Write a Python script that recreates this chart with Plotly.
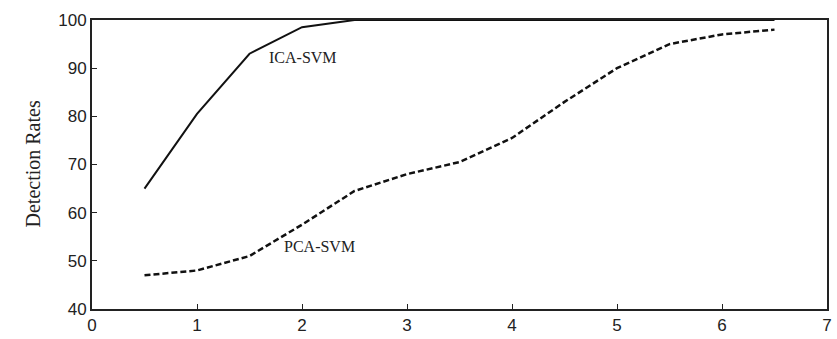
import plotly.graph_objects as go

x_ica = [0.5, 1, 1.5, 2, 2.5, 3, 3.5, 4, 4.5, 5, 5.5, 6, 6.5]
y_ica = [65, 80.5, 93, 98.5, 100, 100, 100, 100, 100, 100, 100, 100, 100]
x_pca = [0.5, 1, 1.5, 2, 2.5, 3, 3.5, 4, 4.5, 5, 5.5, 6, 6.5]
y_pca = [47, 48, 51, 57.5, 64.5, 68, 70.5, 75.5, 83, 90, 95, 97, 98]
x_ticks = [0, 1, 2, 3, 4, 5, 6, 7]
y_ticks = [40, 50, 60, 70, 80, 90, 100]

fig = go.Figure()
fig.add_trace(go.Scatter(x=x_ica, y=y_ica, mode="lines", name="ICA-SVM",
                         line=dict(color="#111111", width=2), cliponaxis=False))
fig.add_trace(go.Scatter(x=x_pca, y=y_pca, mode="lines", name="PCA-SVM",
                         line=dict(color="#111111", width=2.5, dash="6px,3px"), cliponaxis=False))

fig.add_annotation(x=2.01, y=92.3, text="ICA-SVM", showarrow=False,
                   font=dict(family="Liberation Serif", size=16, color="#222222"))
fig.add_annotation(x=2.17, y=53, text="PCA-SVM", showarrow=False,
                   font=dict(family="Liberation Serif", size=16, color="#222222"))
fig.add_annotation(xref="paper", yref="paper", x=(19 - 92) / 735, y=0.5,
                   text="Detection Rates", showarrow=False, textangle=-90,
                   font=dict(family="Liberation Serif", size=20, color="#222222"))

axis_common = dict(showline=True, linecolor="#222222", linewidth=2, mirror=True,
                   ticks="inside", ticklen=5, tickcolor="#222222", tickwidth=1,
                   showgrid=False, zeroline=False,
                   tickfont=dict(family="Liberation Sans", size=17, color="#222222"))

fig.update_xaxes(range=[0, 7], tickvals=x_ticks, ticktext=[str(v) for v in x_ticks],
                 **axis_common)
fig.update_yaxes(range=[40, 100], tickvals=y_ticks, ticktext=[str(v) for v in y_ticks],
                 **axis_common)

fig.update_layout(width=837, height=339, margin=dict(l=92, r=10, t=20, b=30, autoexpand=False),
                  plot_bgcolor="white", paper_bgcolor="white", showlegend=False)

fig.write_html(
    "out.html",
    post_script=(
        "document.body.style.margin='0';"
        "var st=document.createElement('style');"
        "st.textContent='.modebar-container{display:none !important;}';"
        "document.head.appendChild(st);"
    ),
)
